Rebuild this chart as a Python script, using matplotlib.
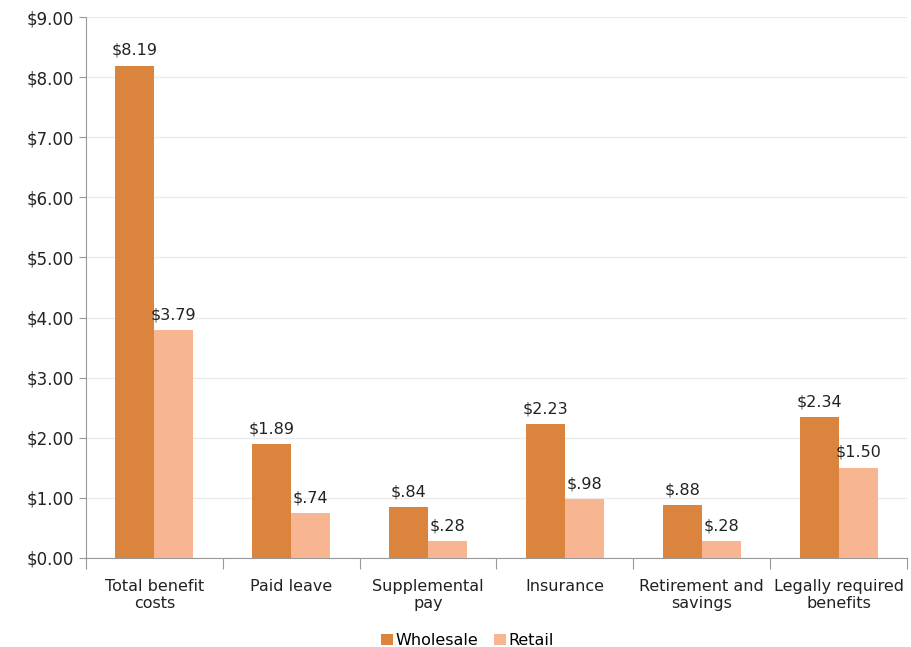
import numpy as np
import matplotlib.pyplot as plt
from matplotlib.ticker import FuncFormatter

# data
categories = ['Total benefit\ncosts', 'Paid leave', 'Supplemental\npay', 'Insurance',
              'Retirement and\nsavings', 'Legally required\nbenefits']
wholesale = [8.19, 1.89, 0.84, 2.23, 0.88, 2.34]
retail = [3.79, 0.74, 0.28, 0.98, 0.28, 1.50]

col_w = '#DA843E'
col_r = '#F8B592'


def money(v):
    s = f'{v:.2f}'
    if s.startswith('0'):
        s = s[1:]
    return '$' + s


fig = plt.figure(figsize=(9.11, 6.47), dpi=100)
ax = fig.add_axes([0.0944, 0.1376, 0.9012, 0.8361])

x = np.arange(len(categories))
w = 0.285
b1 = ax.bar(x - w / 2, wholesale, w, color=col_w, label='Wholesale', zorder=3)
b2 = ax.bar(x + w / 2, retail, w, color=col_r, label='Retail', zorder=3)

for bars, vals in [(b1, wholesale), (b2, retail)]:
    for b, v in zip(bars, vals):
        ax.text(b.get_x() + b.get_width() / 2, v + 0.13, money(v),
                ha='center', va='bottom', fontsize=11.5, color='#222222')

ax.set_xlim(-0.5, len(categories) - 0.5)
ax.set_ylim(0, 9)
ax.set_yticks(np.arange(0, 10, 1))
ax.yaxis.set_major_formatter(FuncFormatter(lambda v, p: f'${v:.2f}'))

# category labels centred, ticks at boundaries
ax.set_xticks(np.arange(-0.5, len(categories)), minor=False)
ax.set_xticklabels([])
ax.set_xticks(x, minor=True)
ax.set_xticklabels(categories, minor=True, fontsize=11.5, color='#222222')
ax.tick_params(axis='x', which='major', length=8, color='#999999')
ax.tick_params(axis='x', which='minor', length=0, pad=15)
ax.tick_params(axis='y', length=5, color='#999999', labelsize=12, labelcolor='#222222')

ax.grid(axis='y', color='#EBEBEB', linewidth=1, zorder=0)
for s in ['top', 'right']:
    ax.spines[s].set_visible(False)
ax.spines['left'].set_color('#999999')
ax.spines['bottom'].set_color('#999999')

ax.legend(loc='upper center', bbox_to_anchor=(0.465, -0.112), ncol=2, frameon=False,
          fontsize=11.5, handlelength=0.7, handleheight=0.7, handletextpad=0.2,
          columnspacing=1.0)

fig.savefig('out.png', dpi=100)
